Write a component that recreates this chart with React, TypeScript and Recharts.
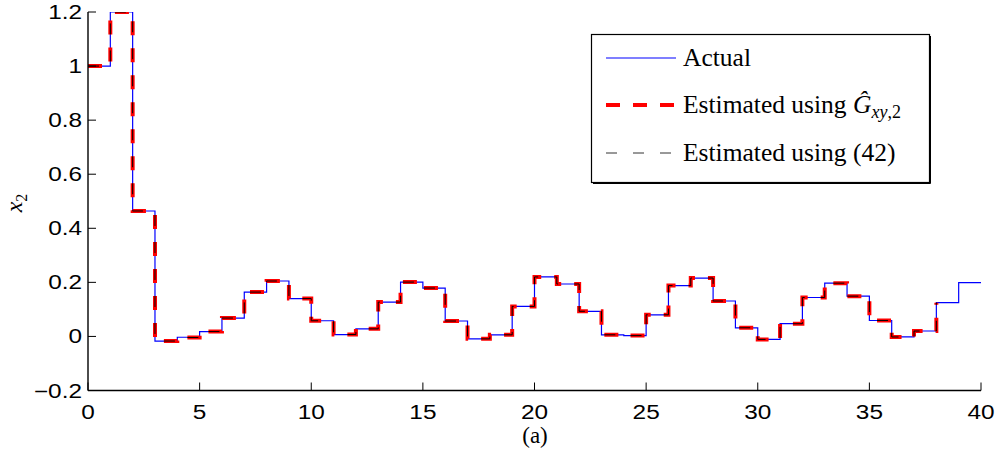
import React from 'react';
import { LineChart, Line, XAxis, YAxis } from 'recharts';

const timeSteps = [0, 1, 2, 3, 4, 5, 6, 7, 8, 9, 10, 11, 12, 13, 14, 15, 16, 17, 18, 19, 20, 21, 22, 23, 24, 25, 26, 27, 28, 29, 30, 31, 32, 33, 34, 35, 36, 37, 38, 39, 40];

const actualValues = [1.0, 1.2, 0.464, -0.017, -0.003, 0.018, 0.068, 0.164, 0.205, 0.14, 0.058, 0.007, 0.028, 0.127, 0.201, 0.179, 0.057, -0.009, 0.006, 0.111, 0.22, 0.194, 0.093, 0.006, 0.003, 0.08, 0.188, 0.216, 0.131, 0.032, -0.011, 0.047, 0.144, 0.197, 0.149, 0.059, -0.002, 0.02, 0.125, 0.199, 0.199];

const estGValues = [1.0, 1.2, 0.464, -0.017, -0.004, 0.018, 0.068, 0.164, 0.205, 0.14, 0.058, 0.007, 0.028, 0.127, 0.201, 0.179, 0.057, -0.009, 0.006, 0.111, 0.22, 0.194, 0.093, 0.006, 0.003, 0.08, 0.188, 0.216, 0.131, 0.032, -0.011, 0.047, 0.144, 0.197, 0.149, 0.059, -0.002, 0.02, 0.125];

const est42Values = [1.0, 1.2, 0.464, -0.017, -0.004, 0.018, 0.068, 0.164, 0.205, 0.14, 0.058, 0.007, 0.028, 0.127, 0.201, 0.179, 0.057, -0.009, 0.006, 0.111, 0.22, 0.194, 0.093, 0.006, 0.003, 0.08, 0.188, 0.216, 0.131, 0.032, -0.011, 0.047, 0.144, 0.197, 0.149, 0.059, -0.002, 0.02, 0.125];

const xTicks = [0, 5, 10, 15, 20, 25, 30, 35, 40];
const yTicks = [-0.2, 0, 0.2, 0.4, 0.6, 0.8, 1, 1.2];
const yTickLabels = ['\u22120.2', '0', '0.2', '0.4', '0.6', '0.8', '1', '1.2'];

const data = timeSteps.map((t, i) => ({
  t,
  actual: actualValues[i],
  estG: i < estGValues.length ? estGValues[i] : undefined,
  est42: i < est42Values.length ? est42Values[i] : undefined,
}));

const SANS = '"Liberation Sans", Arial, Helvetica, sans-serif';
const SERIF = '"Liberation Serif", "Times New Roman", serif';

const BottomTick = (props: any) => {
  const { x, y, payload } = props;
  return (
    <g>
      <line x1={x} y1={y} x2={x} y2={y - 8} stroke="#000" strokeWidth={1} />
      <text
        transform={`translate(${x},${y + 28.5}) scale(1.25,1)`}
        textAnchor="middle"
        fontFamily={SANS}
        fontSize={19.5}
        fill="#000"
      >
        {String(payload.value)}
      </text>
    </g>
  );
};

const TopTick = (props: any) => {
  const { x, y } = props;
  return <line x1={x} y1={y} x2={x} y2={y + 8} stroke="#000" strokeWidth={1} />;
};

const LeftTick = (props: any) => {
  const { x, y, payload } = props;
  const idx = yTicks.findIndex((v) => Math.abs(v - payload.value) < 1e-9);
  const label = idx >= 0 ? yTickLabels[idx] : String(payload.value);
  return (
    <g>
      <line x1={x} y1={y} x2={x + 8} y2={y} stroke="#000" strokeWidth={1} />
      <text
        transform={`translate(${x - 6},${y + 7}) scale(1.25,1)`}
        textAnchor="end"
        fontFamily={SANS}
        fontSize={19.5}
        fill="#000"
      >
        {label}
      </text>
    </g>
  );
};

const RightTick = (props: any) => {
  const { x, y } = props;
  return <line x1={x} y1={y} x2={x - 8} y2={y} stroke="#000" strokeWidth={1} />;
};

const Overlay = () => (
  <svg
    width={1000}
    height={458}
    style={{ position: 'absolute', left: 0, top: 0, pointerEvents: 'none' }}
  >
    {/* y-axis label */}
    <text
      transform="translate(22,203) rotate(-90)"
      textAnchor="middle"
      fontFamily={SERIF}
      fontSize={24}
      fill="#000"
    >
      <tspan fontStyle="italic">x</tspan>
      <tspan dy={5} fontSize={16}>2</tspan>
    </text>
    {/* caption */}
    <text x={535} y={443} textAnchor="middle" fontFamily={SERIF} fontSize={23} fill="#000">
      (a)
    </text>
    {/* legend */}
    <g transform="translate(591,34)">
      <rect x={0.5} y={0.5} width={338} height={148} fill="#fff" stroke="#000" strokeWidth={1.2} />
      <line x1={339.5} y1={2} x2={339.5} y2={149.5} stroke="#000" strokeWidth={1} />
      <line x1={2} y1={149.5} x2={339.5} y2={149.5} stroke="#000" strokeWidth={1} />
      <line x1={15} y1={24} x2={85} y2={24} stroke="#0000ff" strokeWidth={1.2} />
      <text x={92} y={32.4} fontFamily={SERIF} fontSize={25.5} fill="#000">Actual</text>
      <line x1={15} y1={71} x2={85} y2={71} stroke="#ff0000" strokeWidth={4} strokeDasharray="14 13" />
      <text x={92} y={79.2} fontFamily={SERIF} fontSize={25.5} fill="#000">
        Estimated using{' '}
        <tspan fontStyle="italic">{'\u011C'}</tspan>
        <tspan dy={5} fontSize={18}>
          <tspan fontStyle="italic">xy</tspan>,2
        </tspan>
      </text>
      <line x1={15} y1={119} x2={85} y2={119} stroke="#333" strokeWidth={1} strokeDasharray="11 16" />
      <text x={92} y={126.7} fontFamily={SERIF} fontSize={25.5} fill="#000">Estimated using (42)</text>
    </g>
  </svg>
);

export default function App() {
  return (
    <div style={{ position: 'absolute', left: 0, top: 0, width: 1000, height: 458, background: '#fff' }}>
      <LineChart
        width={1000}
        height={458}
        data={data}
        margin={{ top: 12, right: 19, bottom: 37.5, left: 28 }}
      >
        <XAxis
          dataKey="t"
          type="number"
          domain={[0, 40]}
          ticks={xTicks}
          orientation="bottom"
          height={30}
          tickSize={0}
          tickMargin={0}
          tickLine={false}
          axisLine={{ stroke: '#000', strokeWidth: 1.4 }}
          tick={<BottomTick />}
          interval={0}
          allowDataOverflow
        />
        <XAxis
          xAxisId="top"
          dataKey="t"
          type="number"
          domain={[0, 40]}
          ticks={xTicks}
          orientation="top"
          height={0}
          tickSize={0}
          tickMargin={0}
          tickLine={false}
          axisLine={{ stroke: '#000', strokeWidth: 1.4 }}
          tick={<TopTick />}
          interval={0}
          allowDataOverflow
        />
        <YAxis
          type="number"
          domain={[-0.2, 1.2]}
          ticks={yTicks}
          width={60}
          tickSize={0}
          tickMargin={0}
          tickLine={false}
          axisLine={{ stroke: '#000', strokeWidth: 1.4 }}
          tick={<LeftTick />}
          interval={0}
          allowDataOverflow
        />
        <YAxis
          yAxisId="right"
          orientation="right"
          type="number"
          domain={[-0.2, 1.2]}
          ticks={yTicks}
          width={0}
          tickSize={0}
          tickMargin={0}
          tickLine={false}
          axisLine={{ stroke: '#000', strokeWidth: 1.4 }}
          tick={<RightTick />}
          interval={0}
          allowDataOverflow
        />
        <Line
          dataKey="actual"
          type="stepAfter"
          stroke="#0000ff"
          strokeWidth={1.2}
          dot={false}
          activeDot={false}
          isAnimationActive={false}
        />
        <Line
          dataKey="estG"
          type="stepAfter"
          stroke="#ff0000"
          strokeWidth={4}
          strokeDasharray="14 13"
          dot={false}
          activeDot={false}
          isAnimationActive={false}
        />
        <Line
          dataKey="est42"
          type="stepAfter"
          stroke="#000"
          strokeWidth={1}
          strokeDasharray="11 16"
          dot={false}
          activeDot={false}
          isAnimationActive={false}
        />
      </LineChart>
      <Overlay />
    </div>
  );
}
